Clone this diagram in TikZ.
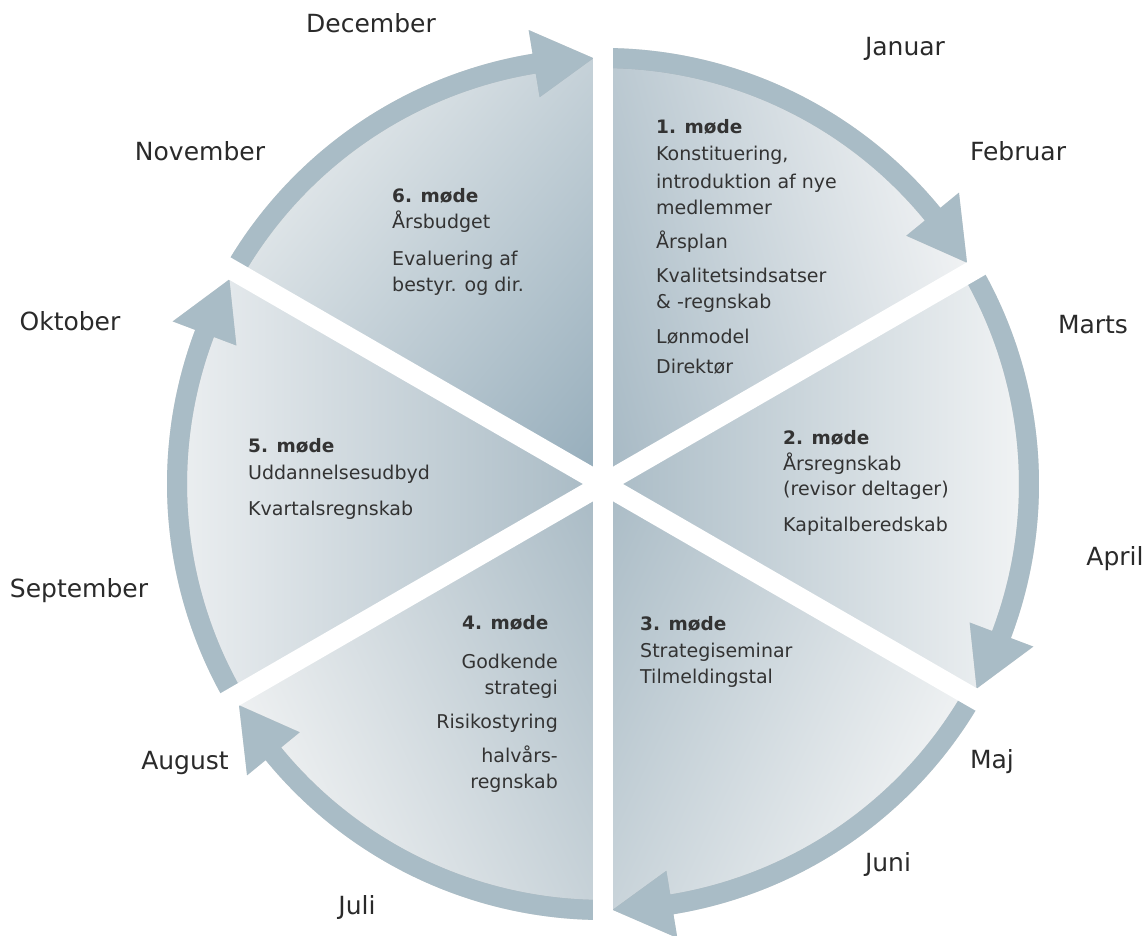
\documentclass[tikz,border=0pt]{standalone}
\usepackage{fontspec}
\setmainfont{DejaVu Sans}
\usetikzlibrary{calc}
\definecolor{bandc}{HTML}{A9BCC6}
\definecolor{txtc}{HTML}{333333}
\definecolor{monthc}{HTML}{2A2A2A}
\definecolor{wdA}{HTML}{A0B4C0}
\definecolor{wlA}{HTML}{F4F5F6}
\definecolor{wdB}{HTML}{A4B7C2}
\definecolor{wlB}{HTML}{F2F4F5}
\definecolor{wdC}{HTML}{A4B7C2}
\definecolor{wlC}{HTML}{F1F3F4}
\definecolor{wdD}{HTML}{A3B6C1}
\definecolor{wlD}{HTML}{EFF1F2}
\definecolor{wdE}{HTML}{A3B6C1}
\definecolor{wlE}{HTML}{ECEFF1}
\definecolor{wdF}{HTML}{8FA8B7}
\definecolor{wlF}{HTML}{DFE5E8}
\tikzset{
  gapline/.style={white, line width=20pt},
  bandfill/.style={fill=bandc},
  bandshadow/.style={fill=black, opacity=0.13},
  month/.style={font=\fontsize{25}{30}\selectfont, text=monthc, inner sep=0pt, anchor=base},
  body/.style={font=\fontsize{19}{24}\selectfont, text=txtc, inner sep=0pt, anchor=base west},
  bodyr/.style={font=\fontsize{19}{24}\selectfont, text=txtc, inner sep=0pt, anchor=base east},
  title/.style={font=\fontsize{18.5}{24}\selectfont\bfseries, text=txtc, inner sep=0pt, anchor=base west},
}
% wedge: #1 start angle, #2 end angle, #3 shading direction, #4 dark, #5 light
\newcommand\shadedwedge[5]{%
  \begin{scope}
    \clip (C) -- ($(C)+(#1:426)$) arc[start angle=#1,end angle=#2,radius=426] -- cycle;
    \begin{scope}[transform canvas={shift={(C)},rotate=#3}]
      \shade[left color=#4,right color=#5] (-30,-440) rectangle (430,440);
    \end{scope}
  \end{scope}}
% band with arrow: #2 start angle, #3 tip angle
\newcommand\arrowband[3][bandfill]{%
  \pgfmathsetmacro\bk{#3+8}%
  \fill[#1] ($(C)+(#2:436)$) arc[start angle=#2,end angle=\bk,radius=436]
    -- ($(C)+(\bk:460)$) -- ($(C)+(#3:426)$) -- ($(C)+(\bk:392)$)
    -- ($(C)+(\bk:416)$) arc[start angle=\bk,end angle=#2,radius=416] -- cycle;}
\begin{document}
\begin{tikzpicture}[x=1pt,y=1pt]
\useasboundingbox (0,0) rectangle (1147,935);
\fill[white] (0,0) rectangle (1147,935);
\coordinate (C) at (603,451);
% wedges
\shadedwedge{30}{90}{15}{wdA}{wlA}
\shadedwedge{-30}{30}{0}{wdB}{wlB}
\shadedwedge{-90}{-30}{-25}{wdC}{wlC}
\shadedwedge{210}{270}{205}{wdD}{wlD}
\shadedwedge{150}{210}{180}{wdE}{wlE}
\shadedwedge{90}{150}{140}{wdF}{wlF}
% band shadows
\begin{scope}[shift={(1.5,-2)}]
\arrowband[bandshadow]{90}{31.3}
\arrowband[bandshadow]{30}{-28.7}
\arrowband[bandshadow]{-30}{-88.7}
\arrowband[bandshadow]{270}{211.3}
\arrowband[bandshadow]{210}{151.3}
\arrowband[bandshadow]{150}{91.3}
\end{scope}
% bands
\arrowband{90}{31.3}
\arrowband{30}{-28.7}
\arrowband{-30}{-88.7}
\arrowband{270}{211.3}
\arrowband{210}{151.3}
\arrowband{150}{91.3}
% gaps
\coordinate (g1a) at ($(C)+(90:445)$);  \coordinate (g1b) at ($(C)+(270:445)$);
\coordinate (g2a) at ($(C)+(30:445)$);  \coordinate (g2b) at ($(C)+(210:445)$);
\coordinate (g3a) at ($(C)+(150:445)$); \coordinate (g3b) at ($(C)+(330:445)$);
\draw[gapline] (g1a) -- (g1b);
\draw[gapline] (g2a) -- (g2b);
\draw[gapline] (g3a) -- (g3b);
% months
\node[month] (dec) at (371,902) {December};
\node[month] (jan) at (905,879) {Januar};
\node[month] (feb) at (1018,774) {Februar};
\node[month] (mar) at (1093,601) {Marts};
\node[month] (apr) at (1115,370) {April};
\node[month] (maj) at (992,167) {Maj};
\node[month] (jun) at (888,64) {Juni};
\node[month] (jul) at (357,21) {Juli};
\node[month] (aug) at (185,166) {August};
\node[month] (sep) at (79,338) {September};
\node[month] (okt) at (70,604) {Oktober};
\node[month] (nov) at (200,774) {November};
% meeting 1
\node[title] (m1) at (656,801) {1. møde};
\node[body] (m1a) at (656,774) {Konstituering,};
\node[body] (m1b) at (656,746) {introduktion af nye};
\node[body] (m1c) at (656,720) {medlemmer};
\node[body] (m1d) at (656,686) {Årsplan};
\node[body] (m1e) at (656,652) {Kvalitetsindsatser};
\node[body] (m1f) at (656,626) {\& -regnskab};
\node[body] (m1g) at (656,591) {Lønmodel};
\node[body] (m1h) at (656,561) {Direktør};
% meeting 2
\node[title] (m2) at (783,490) {2. møde};
\node[body] (m2a) at (783,464) {Årsregnskab};
\node[body] (m2b) at (783,439) {(revisor deltager)};
\node[body] (m2c) at (783,403) {Kapitalberedskab};
% meeting 3
\node[title] (m3) at (640,305) {3. møde};
\node[body] (m3a) at (640,278) {Strategiseminar};
\node[body] (m3b) at (640,252) {Tilmeldingstal};
% meeting 4
\node[title] (m4) at (462,306) {4. møde};
\node[bodyr] (m4a) at (558,267) {Godkende};
\node[bodyr] (m4b) at (558,241) {strategi};
\node[bodyr] (m4c) at (558,207) {Risikostyring};
\node[bodyr] (m4d) at (558,173) {halvårs-};
\node[bodyr] (m4e) at (558,147) {regnskab};
% meeting 5
\node[title] (m5) at (248,482) {5. møde};
\node[body] (m5a) at (248,455) {Uddannelsesudbyd};
\node[body] (m5b) at (248,420) {Kvartalsregnskab};
% meeting 6
\node[title] (m6) at (392,732) {6. møde};
\node[body] (m6a) at (392,706) {Årsbudget};
\node[body] (m6b) at (392,669) {Evaluering af};
\node[body] (m6c) at (392,643) {bestyr. og dir.};
\end{tikzpicture}
\end{document}
